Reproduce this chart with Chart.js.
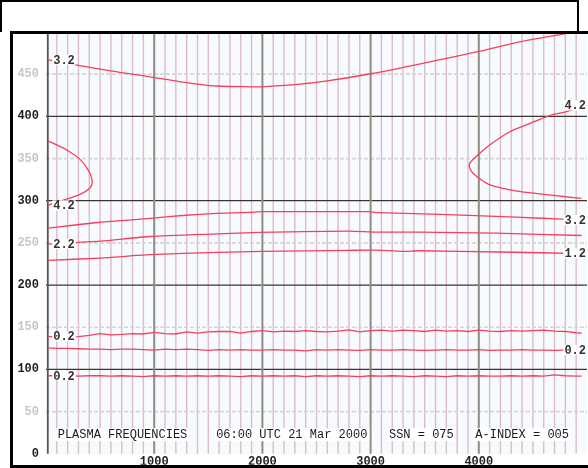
<!DOCTYPE html>
<html>
<head>
<meta charset="utf-8">
<script src="https://cdn.jsdelivr.net/npm/chart.js@4"></script>
<style>
  html, body { margin: 0; padding: 0; background: #fff; }
  #wrap { position: relative; width: 588px; height: 468px; overflow: hidden; }
  #plot { position: absolute; left: 0; top: 0; }
  .bar { position: absolute; background: #000; }
</style>
</head>
<body>
<div id="wrap">
  <canvas id="plot" width="588" height="468"></canvas>
  <div class="bar" style="left:0;top:0;width:579px;height:2px"></div>
  <div class="bar" style="left:0;top:0;width:2px;height:32px"></div>
  <div class="bar" style="left:577px;top:0;width:2px;height:32px"></div>
  <div class="bar" style="left:10px;top:31px;width:578px;height:3px"></div>
  <div class="bar" style="left:10px;top:31px;width:3px;height:437px"></div>
  <div class="bar" style="left:10px;top:465px;width:578px;height:3px"></div>
</div>
<script>
// Axis limits and tick labels
const xMax = 5000;
const yMax = 500;
const xLabelValues = [1000, 2000, 3000, 4000];

// Contour 3.2 (upper arc)
const c32TopX = [20, 500, 1000, 1250, 1420, 1580, 1900, 2000, 2300, 2600, 3000, 3300, 3600, 4000, 4400, 4850, 5000];
const c32TopY = [467, 456, 446, 441, 438, 436, 435, 435, 437.5, 442, 450.5, 458, 466, 477, 489, 499, 502];

// Contour 4.2 (left nose)
const c42LeftX = [20, 207, 315, 392, 428, 401, 315, 193, 69, 20];
const c42LeftY = [371, 359, 349, 336, 322, 314.5, 307.5, 302, 297, 294.5];

// Contour 4.2 (right nose)
const c42RightX = [4948, 4801, 4585, 4340, 4110, 3986, 3925, 3916, 3986, 4094, 4278, 4462, 4647, 4801, 5000];
const c42RightY = [302.7, 304.7, 307.8, 311.8, 318.4, 328.2, 336, 344, 353.6, 365.4, 381.2, 391, 400.7, 405.4, 413];

// Contour 3.2 (lower band)
const c32X = [20, 500, 960, 1260, 1580, 1880, 2000, 2990, 3050, 3570, 3970, 4590, 4950];
const c32Y = [267.5, 274.5, 279, 282.5, 285, 286.2, 287, 287, 286, 284.2, 282.4, 279.2, 277.2];

// Contour 2.2
const c22X = [20, 500, 960, 1580, 1970, 2800, 3050, 3450, 4160, 4950];
const c22Y = [248.6, 252, 257.6, 260.7, 262.4, 263.9, 262.7, 262.7, 261.5, 258.8];

// Contour 1.2
const c12X = [20, 500, 960, 1580, 2000, 2800, 3050, 3290, 3450, 4190, 4950];
const c12Y = [229.4, 232, 236, 238.8, 240, 241.2, 241.5, 240, 240.7, 239.2, 237.4];

// Contours 0.2 (three low ripples), sampled every 100
const rippleX = [20, 100, 200, 300, 400, 500, 600, 700, 800, 900,
  1000, 1100, 1200, 1300, 1400, 1500, 1600, 1700, 1800, 1900,
  2000, 2100, 2200, 2300, 2400, 2500, 2600, 2700, 2800, 2900,
  3000, 3100, 3200, 3300, 3400, 3500, 3600, 3700, 3800, 3900,
  4000, 4100, 4200, 4300, 4400, 4500, 4600, 4700, 4800, 4900, 4950];
const c02aY = [139, 139, 138.5, 139, 140.5, 142.5, 141, 141.5, 142.5, 142,
  144, 142.5, 142, 144.5, 143, 144.5, 145, 145, 143, 145,
  146, 144.5, 145.5, 145, 146, 145, 144.5, 145.5, 147, 144.5,
  146, 146.5, 145.5, 146.5, 146, 145, 146.5, 145.5, 146, 145,
  146.5, 145.5, 145, 146, 145.5, 146, 146.5, 145.5, 145, 143.5, 143];
const c02bY = [125.5, 125, 125, 124.5, 124, 124, 123.5, 124, 124, 123.5,
  123, 124, 123.5, 124, 123.5, 122.5, 123.5, 123, 123.5, 123,
  123, 123.5, 123, 123, 122, 123.5, 123, 123.5, 123, 122.5,
  123.5, 123, 123, 123.5, 123, 122.5, 123, 123.5, 123, 123,
  123.5, 122.5, 123, 123, 123.5, 123, 123, 122.5, 123, 123, 123];
const c02cY = [92.5, 92.5, 92.5, 92, 92.5, 92.5, 92, 92.5, 92, 91.5,
  92.5, 92, 92.5, 92, 92.5, 92, 92.5, 92, 91.5, 92.5,
  92, 92.5, 92, 92.5, 91.5, 92.5, 92, 92.5, 92, 91.5,
  92.5, 92, 92.5, 92, 91.5, 92.5, 92, 91.5, 92.5, 92,
  92.5, 92, 92, 92.5, 92, 92.5, 92, 93.5, 92.5, 92, 92];

// Contour levels and the end of each curve that carries its label
const contours = [
  { level: '3.2', xs: c32TopX,   ys: c32TopY,   tag: 'start', smooth: 0.3 },
  { level: '4.2', xs: c42LeftX,  ys: c42LeftY,  tag: 'end',   smooth: 0.3 },
  { level: '4.2', xs: c42RightX, ys: c42RightY, tag: 'end',   smooth: 0.3 },
  { level: '3.2', xs: c32X,      ys: c32Y,      tag: 'end',   smooth: 0.2 },
  { level: '2.2', xs: c22X,      ys: c22Y,      tag: 'start', smooth: 0.2 },
  { level: '1.2', xs: c12X,      ys: c12Y,      tag: 'end',   smooth: 0.2 },
  { level: '0.2', xs: rippleX,   ys: c02aY,     tag: 'start', smooth: 0 },
  { level: '0.2', xs: rippleX,   ys: c02bY,     tag: 'end',   smooth: 0 },
  { level: '0.2', xs: rippleX,   ys: c02cY,     tag: 'start', smooth: 0 }
];

const caption = 'PLASMA FREQUENCIES    06:00 UTC 21 Mar 2000   SSN = 075   A-INDEX = 005';

const MONO = '"Liberation Mono", "DejaVu Sans Mono", monospace';
const CURVE = '#f4405f';

const datasets = contours.map(c => ({
  label: c.level,
  data: c.xs.map((x, i) => ({ x, y: c.ys[i] })),
  showLine: true,
  borderColor: CURVE,
  borderWidth: 1.3,
  pointRadius: 0,
  pointHoverRadius: 0,
  tension: c.smooth,
  fill: false
}));

const plotGrid = {
  id: 'plotGrid',
  beforeDatasetsDraw(chart) {
    const { ctx, chartArea: a, scales: { x, y } } = chart;
    ctx.save();
    ctx.fillStyle = '#f8fbfe';
    ctx.fillRect(a.left, a.top, a.right - a.left, a.bottom - a.top);

    const vline = (px, w, col) => {
      ctx.strokeStyle = col; ctx.lineWidth = w;
      ctx.beginPath(); ctx.moveTo(px, a.top); ctx.lineTo(px, a.bottom); ctx.stroke();
    };
    const hline = (py, w, col, dash) => {
      ctx.strokeStyle = col; ctx.lineWidth = w; ctx.setLineDash(dash || []);
      ctx.beginPath(); ctx.moveTo(a.left, py); ctx.lineTo(a.right, py); ctx.stroke();
      ctx.setLineDash([]);
    };

    // light verticals every 100
    x.ticks.forEach(t => {
      const v = t.value;
      if (v <= 0 || v >= xMax || v % 1000 === 0) return;
      vline(x.getPixelForValue(v), 1.4, '#dbbccf');
    });
    // dashed horizontals at the fifties
    y.ticks.forEach(t => {
      const v = t.value;
      if (v <= 0 || v >= yMax || v % 100 === 0) return;
      hline(y.getPixelForValue(v), 1.7, '#d8d4d4', [4, 2]);
    });
    // dark horizontals at the hundreds
    y.ticks.forEach(t => {
      const v = t.value;
      if (v <= 0 || v >= yMax || v % 100 !== 0) return;
      hline(y.getPixelForValue(v), 1.3, '#3c3430');
    });
    // heavier verticals every 1000
    x.ticks.forEach(t => {
      const v = t.value;
      if (v <= 0 || v >= xMax || v % 1000 !== 0) return;
      vline(x.getPixelForValue(v), 2, '#908c84');
    });
    // left axis
    vline(a.left + 1.8, 1.8, '#5c544c');
    ctx.restore();
  },
  afterDatasetsDraw(chart) {
    const { ctx, chartArea: a, scales: { x, y } } = chart;
    ctx.save();
    // contour level tags, on whichever edge the tagged end of the curve reaches
    ctx.font = 'bold 12px ' + MONO;
    ctx.textBaseline = 'alphabetic';
    const cw = ctx.measureText('0').width;
    contours.forEach(c => {
      const i = c.tag === 'start' ? 0 : c.xs.length - 1;
      const onLeft = c.xs[i] < xMax / 2;
      const py = y.getPixelForValue(c.ys[i]);
      const w = ctx.measureText(c.level).width;
      const tx = onLeft ? a.left + cw : a.right - w - 1;
      ctx.fillStyle = '#ffffff';
      ctx.fillRect(tx - 1, py - 5, w + 2, 10);
      ctx.fillStyle = '#333333';
      ctx.fillText(c.level, tx, py + 3.8);
    });

    // caption strip along the bottom of the plot
    ctx.font = '12px ' + MONO;
    const sw = ctx.measureText(' ').width;
    const baseX = a.left + 11.7;
    const baseY = a.bottom - 15.6;
    const re = /\S+(?: {1,2}\S+)*/g;
    let m;
    while ((m = re.exec(caption)) !== null) {
      const sx = baseX + m.index * sw;
      const w = m[0].length * sw;
      ctx.fillStyle = '#ffffff';
      ctx.fillRect(sx - 2, baseY - 10, w + 4, 13);
      ctx.fillStyle = '#1a1a1a';
      ctx.fillText(m[0], sx, baseY);
    }
    ctx.restore();
  }
};

new Chart(document.getElementById('plot'), {
  type: 'scatter',
  data: { datasets },
  plugins: [plotGrid],
  options: {
    responsive: false,
    animation: false,
    devicePixelRatio: 1,
    layout: { padding: { top: 32, left: 0, right: 0, bottom: 0 } },
    plugins: { legend: { display: false }, tooltip: { enabled: false } },
    scales: {
      x: {
        type: 'linear', min: 0, max: xMax,
        grid: { display: false, drawTicks: false },
        border: { display: false },
        afterFit: s => { s.height = 11; },
        ticks: {
          stepSize: 100, autoSkip: false, maxRotation: 0, minRotation: 0,
          padding: 1,
          color: '#222222',
          font: { family: MONO, size: 12, weight: 'bold' },
          callback: v => xLabelValues.includes(v) ? String(v) : ''
        }
      },
      y: {
        type: 'linear', min: 0, max: yMax,
        grid: { display: false, drawTicks: false },
        border: { display: false },
        afterFit: s => { s.width = 46; },
        ticks: {
          stepSize: 50, padding: 7,
          font: { family: MONO, size: 12, weight: 'bold' },
          color: c => (c.tick && c.tick.value % 100 === 0) ? '#1e1e1e' : '#c6c6c6',
          callback: v => v === yMax ? '' : String(v)
        }
      }
    }
  }
});
</script>
</body>
</html>
